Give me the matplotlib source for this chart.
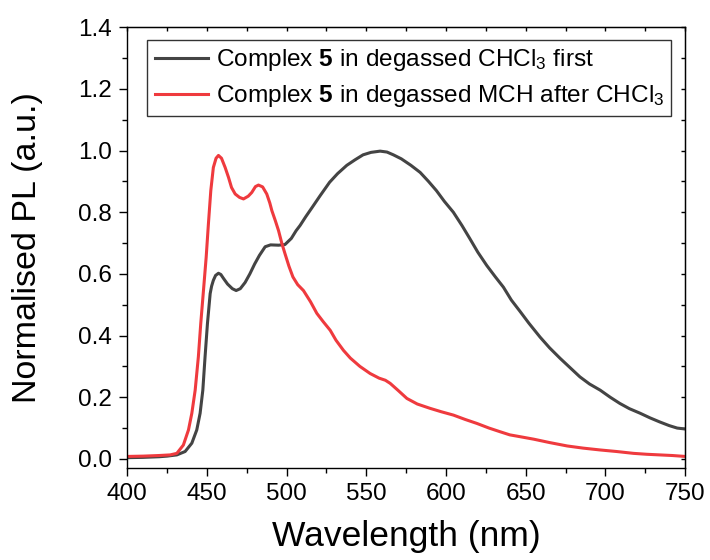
import matplotlib
matplotlib.use("Agg")
import matplotlib.pyplot as plt
from matplotlib.ticker import MultipleLocator

plt.rcParams["font.family"] = ["Liberation Sans", "DejaVu Sans"]
plt.rcParams["mathtext.fontset"] = "custom"
plt.rcParams["mathtext.rm"] = "Liberation Sans"
plt.rcParams["mathtext.bf"] = "Liberation Sans:bold"
plt.rcParams["mathtext.it"] = "Liberation Sans:italic"

# Complex 5 in degassed CHCl3
wl_chcl3 = [400, 410, 420, 425, 431.2, 436.4, 440.6, 443.7, 445.8, 447.5, 448.9, 450.4, 452.1,
            453, 454.1, 455.5, 457.3, 458.8, 460.5, 463, 466, 468.4, 471, 474, 477,
            480, 483, 486.6, 490, 495, 499, 503, 506, 508.5, 512, 516, 521, 527, 532, 537.8,
            543, 548, 553, 558.7, 563, 567, 572, 578, 583.8, 589, 594, 599, 604.6, 610, 615,
            620, 625.6, 631, 636, 641, 646.5, 652, 659, 665, 671.6, 678, 684, 690, 696.7, 703,
            709, 715, 721.8, 728, 734, 740, 745, 750]
pl_chcl3 = [0.004, 0.005, 0.007, 0.009, 0.013, 0.024, 0.051, 0.094, 0.148, 0.223, 0.331,
            0.439, 0.536, 0.56, 0.579, 0.595, 0.602, 0.598, 0.585, 0.567, 0.552,
            0.546, 0.552, 0.572, 0.6, 0.632, 0.66, 0.688, 0.694, 0.693, 0.695, 0.715, 0.74,
            0.757, 0.785, 0.815, 0.853, 0.897, 0.925, 0.952, 0.97, 0.986, 0.994, 0.998, 0.995,
            0.986, 0.973, 0.952, 0.929, 0.9, 0.87, 0.835, 0.8, 0.757, 0.714, 0.67, 0.627, 0.59,
            0.557, 0.515, 0.478, 0.44, 0.395, 0.36, 0.326, 0.295, 0.266, 0.243, 0.223, 0.2,
            0.18, 0.163, 0.148, 0.133, 0.12, 0.108, 0.1, 0.097]

# Complex 5 in degassed MCH after CHCl3
wl_mch = [400, 410, 420, 427, 431.2, 435.3, 438.5, 440.6, 442.7, 444.7, 446.2, 447.9, 449.6,
          451, 452.5, 454.1, 455.8, 457.3, 459.2, 461.5, 463.6, 465.5, 467.8,
          470.5, 473, 476, 478.2, 480.5, 482.4, 485, 487.6, 489.5, 490.8, 493, 495, 497, 499,
          501.5, 504, 507, 510.6, 515, 519, 523, 527.4, 531, 535.7, 540, 546, 552.4, 558, 562,
          565, 570, 575.5, 582, 590, 597, 604.7, 612, 619.4, 627, 634, 640, 646.5, 655, 665,
          676, 686, 696.7, 707, 717.6, 726, 734, 742, 750]
pl_mch = [0.008, 0.009, 0.011, 0.013, 0.018, 0.045, 0.094, 0.148, 0.223, 0.331, 0.439, 0.546,
          0.654, 0.762, 0.87, 0.945, 0.975, 0.984, 0.975, 0.945,
          0.913, 0.88, 0.859, 0.848, 0.843, 0.852, 0.864, 0.883, 0.888, 0.882, 0.859, 0.83,
          0.805, 0.772, 0.74, 0.7, 0.666, 0.625, 0.59, 0.565, 0.546, 0.51, 0.472, 0.445,
          0.417, 0.385, 0.352, 0.327, 0.3, 0.277, 0.262, 0.255, 0.245, 0.222, 0.196, 0.178,
          0.164, 0.153, 0.142, 0.128, 0.115, 0.1, 0.088, 0.078, 0.072, 0.064, 0.053, 0.042,
          0.035, 0.029, 0.024, 0.018, 0.015, 0.013, 0.011, 0.008]

labels = [r"Complex $\mathbf{5}$ in degassed CHCl$_3$ first",
          r"Complex $\mathbf{5}$ in degassed MCH after CHCl$_3$"]

fig = plt.figure(figsize=(7.1, 5.6), dpi=100)
ax = fig.add_axes([0.179, 0.164, 0.786, 0.7875])

ax.plot(wl_chcl3, pl_chcl3, color="#444444", lw=2.2, label=labels[0])
ax.plot(wl_mch, pl_mch, color="#ef3a3e", lw=2.2, label=labels[1])

ax.set_xlim(400, 750)
ax.set_ylim(-0.03, 1.4)
ax.xaxis.set_major_locator(MultipleLocator(50))
ax.xaxis.set_minor_locator(MultipleLocator(25))
ax.yaxis.set_major_locator(MultipleLocator(0.2))
ax.yaxis.set_minor_locator(MultipleLocator(0.1))
ax.yaxis.set_major_formatter(matplotlib.ticker.FormatStrFormatter("%.1f"))

ax.tick_params(which="major", direction="out", length=6, width=1, labelsize=17.5, pad=5)
ax.tick_params(which="minor", direction="out", length=3.5, width=1)
for s in ax.spines.values():
    s.set_linewidth(1)

# inward ticks on top and right, no labels
top = ax.secondary_xaxis("top")
top.xaxis.set_major_locator(MultipleLocator(50))
top.xaxis.set_minor_locator(MultipleLocator(25))
top.tick_params(which="both", direction="in", length=3, width=1, labeltop=False)
right = ax.secondary_yaxis("right")
right.yaxis.set_major_locator(MultipleLocator(0.2))
right.yaxis.set_minor_locator(MultipleLocator(0.1))
right.tick_params(which="both", direction="in", length=3, width=1, labelright=False)

ax.set_xlabel("Wavelength (nm)", fontsize=25.5)
ax.set_ylabel("Normalised PL (a.u.)", fontsize=24.5)
ax.xaxis.set_label_coords(0.5, -0.118)
ax.yaxis.set_label_coords(-0.15, 0.5)

leg = ax.legend(loc="upper left", bbox_to_anchor=(0.036, 0.971), borderaxespad=0,
                fontsize=17.6, frameon=True, fancybox=False, edgecolor="black",
                handlelength=2.2, handletextpad=0.3, borderpad=0.3, labelspacing=0.4)
leg.get_frame().set_linewidth(1)

fig.savefig("out.png", dpi=100)
